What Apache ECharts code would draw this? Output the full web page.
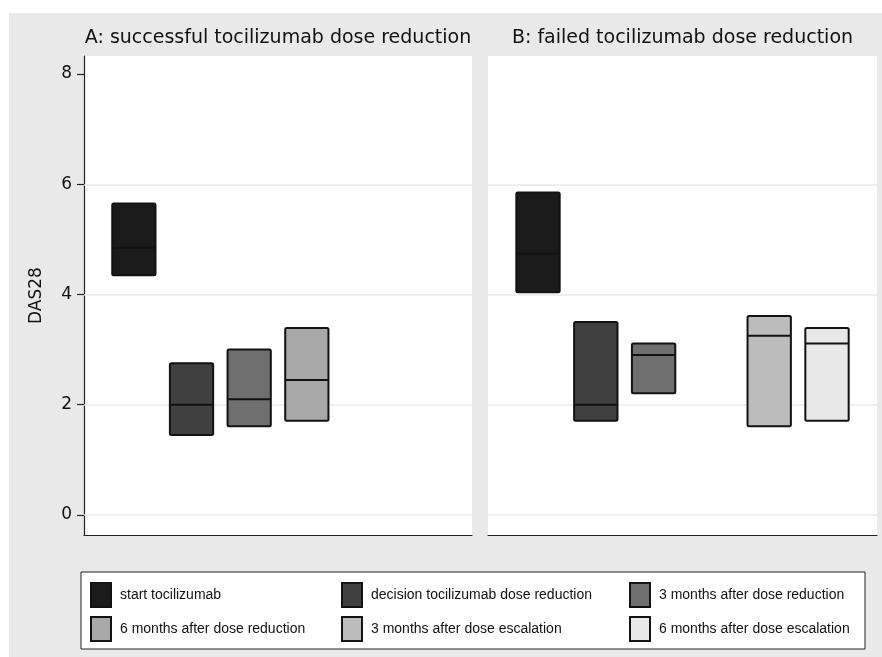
<!DOCTYPE html>
<html>
<head>
<meta charset="utf-8">
<title>DAS28 during tocilizumab dose reduction</title>
<script src="https://cdn.jsdelivr.net/npm/echarts@6/dist/echarts.min.js"></script>
<style>
  html, body { margin: 0; padding: 0; background: #fff; }
  #chart { width: 882px; height: 657px; }
</style>
</head>
<body>
<div id="chart"></div>
<script>
// Time points (one box colour each), in slot order along each panel
const timePoints = [
  'start tocilizumab',
  'decision tocilizumab dose reduction',
  '3 months after dose reduction',
  '6 months after dose reduction',
  '3 months after dose escalation',
  '6 months after dose escalation'
];
const boxColors = ['#1b1b1b', '#404040', '#6f6f6f', '#a8a8a8', '#bcbcbc', '#e8e8e8'];

const panelTitles = ['A: successful tocilizumab dose reduction', 'B: failed tocilizumab dose reduction'];

// DAS28 boxes per time point: [slot, lower quartile, median, upper quartile]; null = not measured
const panelA = [
  [0, 4.35, 4.85, 5.65],
  [1, 1.45, 2.00, 2.75],
  [2, 1.61, 2.10, 3.00],
  [3, 1.71, 2.45, 3.39],
  null,
  null
];
const panelB = [
  [0, 4.04, 4.74, 5.85],
  [1, 1.71, 2.00, 3.50],
  [2, 2.21, 2.90, 3.11],
  null,
  [4, 1.61, 3.25, 3.61],
  [5, 1.71, 3.11, 3.39]
];

const yTicks = [0, 2, 4, 6, 8];
const gridValues = [0, 2, 4, 6];

const FONT = '"DejaVu Sans", Verdana, sans-serif';
const LEGEND_FONT = '"Liberation Sans", Arial, Helvetica, sans-serif';
const BOX_WIDTH = 0.75; // in slot units
const EDGE = '#121212';

function renderBox(params, api) {
  const slot = api.value(0);
  const lo = api.coord([slot, api.value(1)]);
  const med = api.coord([slot, api.value(2)]);
  const hi = api.coord([slot, api.value(3)]);
  const w = api.size([BOX_WIDTH, 0])[0];
  const x = lo[0] - w / 2;
  const style = api.style();
  return {
    type: 'group',
    children: [
      {
        type: 'rect',
        shape: { x: x, y: hi[1], width: w, height: lo[1] - hi[1], r: 1.5 },
        style: { fill: style.fill, stroke: EDGE, lineWidth: 2 }
      },
      {
        type: 'line',
        shape: { x1: x, y1: med[1], x2: x + w, y2: med[1] },
        style: { stroke: EDGE, lineWidth: 2 }
      }
    ]
  };
}

const series = [];
[panelA, panelB].forEach(function (panel, p) {
  // light horizontal reference lines, kept beneath the boxes
  series.push({
    type: 'custom',
    name: 'grid' + p,
    xAxisIndex: p,
    yAxisIndex: p,
    silent: true,
    data: [],
    renderItem: function () { return null; },
    markLine: {
      silent: true,
      z: 1,
      symbol: 'none',
      label: { show: false },
      lineStyle: { color: '#e8e8e8', width: 1.5, type: 'solid' },
      data: gridValues.map(function (v) { return { yAxis: v }; })
    },
    z: 1
  });
  panel.forEach(function (box, i) {
    if (!box) return;
    series.push({
      type: 'custom',
      name: timePoints[i],
      xAxisIndex: p,
      yAxisIndex: p,
      itemStyle: { color: boxColors[i], borderColor: EDGE, borderWidth: 2 },
      renderItem: renderBox,
      encode: { x: 0, y: [1, 2, 3] },
      data: [box],
      z: 10
    });
  });
});

function legendColumn(names, left) {
  return {
    orient: 'vertical',
    left: left,
    top: 582,
    padding: 0,
    itemWidth: 20,
    itemHeight: 24,
    itemGap: 8,
    selectedMode: false,
    icon: 'rect',
    textStyle: { fontFamily: LEGEND_FONT, fontSize: 14, color: '#111', padding: [0, 0, 0, 4] },
    data: names.map(function (n) {
      const i = timePoints.indexOf(n);
      return { name: n, itemStyle: { color: boxColors[i], borderColor: EDGE, borderWidth: 2 } };
    })
  };
}

const gridsPx = [
  { left: 84, top: 56, width: 388, height: 479 },
  { left: 488, top: 56, width: 389, height: 479 }
];

const option = {
  backgroundColor: '#ffffff',
  animation: false,
  graphic: [
    {
      type: 'rect',
      z: -100,
      shape: { x: 9, y: 13, width: 873, height: 644 },
      style: { fill: '#e9e9e9' }
    },
    {
      type: 'rect',
      z: -90,
      shape: { x: 81, y: 572, width: 784, height: 77 },
      style: { fill: '#ffffff', stroke: '#222', lineWidth: 1 }
    }
  ],
  title: panelTitles.map(function (t, p) {
    return {
      text: t,
      left: gridsPx[p].left + gridsPx[p].width / 2,
      top: 29,
      textAlign: 'center',
      padding: 0,
      textStyle: { fontFamily: FONT, fontSize: 19, fontWeight: 'normal', color: '#111' }
    };
  }),
  legend: [
    legendColumn([timePoints[0], timePoints[3]], 90),
    legendColumn([timePoints[1], timePoints[4]], 341),
    legendColumn([timePoints[2], timePoints[5]], 629)
  ],
  grid: gridsPx.map(function (g) {
    return Object.assign({ show: true, backgroundColor: '#ffffff', borderWidth: 0, containLabel: false }, g);
  }),
  xAxis: [0, 1].map(function (p) {
    return {
      type: 'value',
      gridIndex: p,
      min: -0.865,
      max: 5.865,
      axisLine: { show: true, onZero: false, lineStyle: { color: '#222', width: 1.2 } },
      axisTick: { show: false },
      axisLabel: { show: false },
      splitLine: { show: false }
    };
  }),
  yAxis: [0, 1].map(function (p) {
    return {
      type: 'value',
      gridIndex: p,
      min: -0.364,
      max: 8.327,
      name: p === 0 ? 'DAS28' : '',
      nameLocation: 'middle',
      nameRotate: 90,
      nameGap: 39,
      nameTextStyle: { fontFamily: FONT, fontSize: 17, color: '#111' },
      axisLine: { show: p === 0, onZero: false, lineStyle: { color: '#222', width: 1.2 } },
      axisTick: { show: p === 0, length: 7, customValues: yTicks, lineStyle: { color: '#222', width: 1.2 } },
      axisLabel: {
        show: p === 0,
        customValues: yTicks,
        margin: 12,
        padding: [4, 0, 0, 0],
        fontFamily: FONT,
        fontSize: 17,
        color: '#111'
      },
      splitLine: { show: false }
    };
  }),
  series: series
};

const chart = echarts.init(document.getElementById('chart'), null, { renderer: 'canvas' });
chart.setOption(option);
</script>
</body>
</html>
